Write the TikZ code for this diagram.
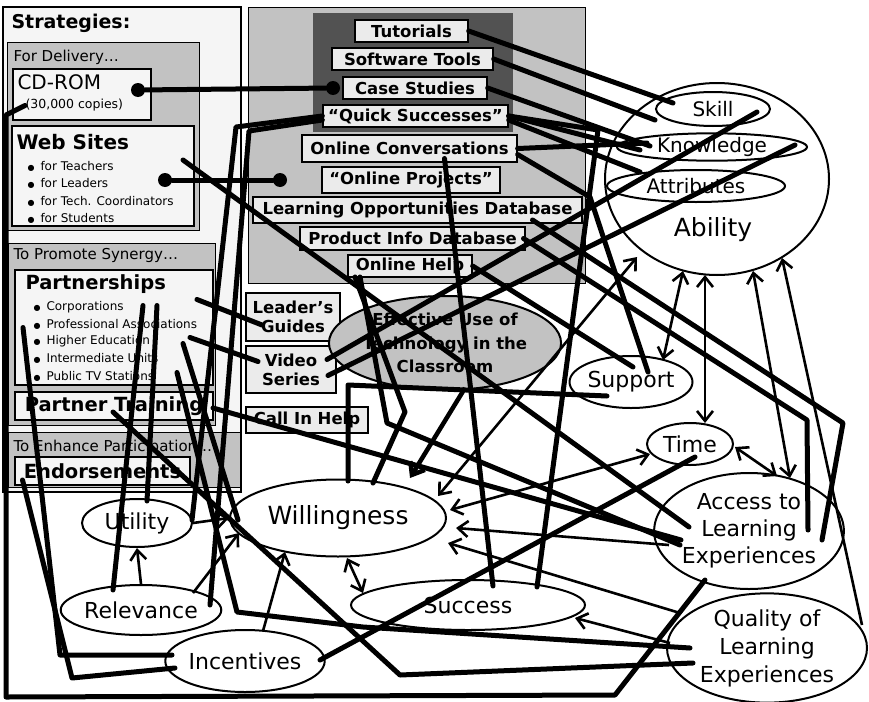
\documentclass[tikz,border=0pt]{standalone}
\usepackage{fontspec}
\setmainfont{DejaVu Sans}
\usetikzlibrary{shapes.geometric, arrows.meta, calc}

\tikzset{
  panel/.style={draw, line width=1pt, fill=black!24},
  sbox/.style={draw, line width=1.3pt, fill=black!4, inner sep=1pt},
  mbox/.style={draw, line width=1.3pt, fill=black!8, inner sep=1pt, font=\fontsize{16.5}{19}\bfseries, align=center},
  oval/.style={ellipse, draw, line width=2pt, fill=white, inner sep=0pt, font=\fontsize{22}{27}\selectfont, align=center},
  tie/.style={line width=5pt, line cap=round, line join=round},
  dot/.style={circle, fill, inner sep=0pt, minimum size=14pt},
  link/.style={line width=2.6pt, -{Straight Barb[length=10pt,width=16pt]}},
  both/.style={line width=2.6pt, {Straight Barb[length=10pt,width=16pt]}-{Straight Barb[length=10pt,width=16pt]}},
  boldlink/.style={line width=4.5pt, -{Straight Barb[length=11pt,width=17pt]}},
}

\begin{document}
\begin{tikzpicture}[x=1pt, y=-1pt]
  \useasboundingbox (0,0) rectangle (869,701);

  % --- Strategies panel ---
  \draw[line width=1.3pt, fill=black!4] (3,7) rectangle (241,492);
  \draw[panel] (7,43) rectangle (199,230);
  \draw[panel] (8,243) rectangle (215,425);
  \draw[panel] (8,432) rectangle (240,487);
  \node[anchor=west, font=\fontsize{19}{22}\bfseries] (strat) at (8,23) {Strategies:};
  \node[anchor=west, font=\fontsize{15}{17}\selectfont] (fordeliv) at (10,57) {For Delivery…};
  \node[anchor=west, font=\fontsize{15}{17}\selectfont] (forsyn) at (10,255) {To Promote Synergy…};
  \node[anchor=west, font=\fontsize{15}{17}\selectfont] (forpart) at (10,447) {To Enhance Participation…};

  \node[sbox, minimum width=138pt, minimum height=51pt] (cdrom) at (82,94.5) {};
  \node[anchor=west, font=\fontsize{20}{22}\selectfont] (cdromtxt) at (14,82) {CD-ROM};
  \node[anchor=west, font=\fontsize{12.5}{14}\selectfont] (copies) at (22,105) {(30,000 copies)};

  \node[sbox, minimum width=182pt, minimum height=100pt] (web) at (103,176) {};
  \node[anchor=west, font=\fontsize{20}{22}\bfseries] (webtxt) at (13,142) {Web Sites};
  \foreach \yy/\txt [count=\i] in {166/for Teachers, 183/for Leaders, 201/for Tech. Coordinators, 218/for Students}
    \node[anchor=west, font=\fontsize{12}{14}\selectfont] (webitem\i) at (24,\yy) {{\fontsize{8}{8}\selectfont ●}\hspace{6pt}\txt};

  \node[sbox, minimum width=198pt, minimum height=115pt] (partner) at (114,327.5) {};
  \node[anchor=west, font=\fontsize{19.5}{22}\bfseries] (partnertxt) at (22,284) {Partnerships};
  \foreach \yy/\txt [count=\i] in {307/Corporations, 324/Professional Associations, 341/Higher Education, 358/Intermediate Units, 376/Public TV Stations}
    \node[anchor=west, font=\fontsize{12}{14}\selectfont] (partitem\i) at (30,\yy) {{\fontsize{8}{8}\selectfont ●}\hspace{6pt}\txt};

  \node[sbox, minimum width=198pt, minimum height=28pt, font=\fontsize{19.5}{22}\bfseries] (ptrain) at (114,406) {Partner Training};
  \node[sbox, minimum width=175pt, minimum height=28pt, font=\fontsize{19.5}{22}\bfseries] (endorse) at (102.5,471) {Endorsements};

  % --- delivery tools ---
  \draw[panel] (248,8) rectangle (585,283);
  \fill[black!68] (313,13) rectangle (513,132);
  \node[mbox, minimum width=113pt, minimum height=22pt] (tut) at (411.5,31) {Tutorials};
  \node[mbox, minimum width=161pt, minimum height=22pt] (soft) at (412.5,59) {Software Tools};
  \node[mbox, minimum width=144pt, minimum height=22pt] (casest) at (415,88) {Case Studies};
  \node[mbox, minimum width=185pt, minimum height=22pt] (quick) at (415.5,116) {“Quick Successes”};
  \node[mbox, minimum width=215pt, minimum height=27pt] (onconv) at (409.5,148.5) {Online Conversations};
  \node[mbox, minimum width=178pt, minimum height=26pt] (onproj) at (411,180) {“Online Projects”};
  \node[mbox, minimum width=329pt, minimum height=26pt] (lod) at (417.5,210) {Learning Opportunities Database};
  \node[mbox, minimum width=225pt, minimum height=23pt] (prodinfo) at (412.5,238.5) {Product Info Database};
  \node[mbox, minimum width=124pt, minimum height=22pt] (onhelp) at (410,266) {Online Help};
  \node[mbox, minimum width=94pt, minimum height=48pt] (leaders) at (293,317) {Leader's\\Guides};
  \node[mbox, minimum width=90pt, minimum height=47pt] (video) at (291,369.5) {Video\\Series};
  \node[mbox, minimum width=122pt, minimum height=26pt] (callhelp) at (307,420) {Call In Help};

  % --- outcomes ---
  \node[oval, minimum width=224pt, minimum height=192pt] (ability) at (717,179) {};
  \node[font=\fontsize{25}{28}\selectfont] (abilitytxt) at (713,230) {Ability};
  \node[oval, minimum width=114pt, minimum height=34pt, font=\fontsize{20}{22}\selectfont] (skill) at (713,109) {Skill};
  \node[oval, minimum width=190pt, minimum height=26pt, font=\fontsize{20}{22}\selectfont] (knowledge) at (712,147) {Knowledge};
  \node[oval, minimum width=178pt, minimum height=32pt, font=\fontsize{20}{22}\selectfont] (attrib) at (696,186) {Attributes};
  \node[oval, fill=black!24, minimum width=200pt, minimum height=94pt, font=\fontsize{16.5}{23.5}\bfseries] (effuse) at (445,343) {Effective Use of\\Technology in the\\Classroom};
  \node[oval, minimum width=118pt, minimum height=52pt] (support) at (631,382) {Support};
  \node[oval, minimum width=86pt, minimum height=42pt] (time) at (690,444) {Time};
  \node[oval, minimum width=178pt, minimum height=116pt] (access) at (749,531) {Access to\\Learning\\Experiences};
  \node[oval, minimum width=200pt, minimum height=106pt, font=\fontsize{22}{28}\selectfont] (quality) at (767,648) {Quality of\\Learning\\Experiences};
  \node[oval, minimum width=216pt, minimum height=77pt, font=\fontsize{25}{28}\selectfont] (willing) at (338,518) {Willingness};
  \node[oval, minimum width=110pt, minimum height=48pt] (utility) at (137,523) {Utility};
  \node[oval, minimum width=144pt, minimum height=50pt] (relev) at (141,610) {Relevance};
  \node[oval, minimum width=150pt, minimum height=62pt] (incent) at (245,661) {Incentives};
  \node[oval, minimum width=234pt, minimum height=50pt] (success) at (468,605) {Success};

  % --- thick links ---
  \node[dot] (cddot) at (138,90) {};
  \node[dot] (csdot) at (333,88) {};
  \node[dot] (wsdot) at (165,180) {};
  \node[dot] (opdot) at (280,180) {};
  \draw[tie] (cddot) -- (csdot);
  \draw[tie] (wsdot) -- (opdot);

  \draw[tie] (tut.east) -- ($(skill)+(-40,-6)$);
  \draw[tie] (soft.east) -- ($(skill)+(-58,11)$);
  \draw[tie] (casest.east) -- ($(knowledge)+(-62,-1)$);
  \draw[tie] (quick.east) -- ($(knowledge)+(-72,3)$);
  \draw[tie] ($(quick.east)+(0,4)$) -- ($(attrib)+(-56,-14)$);
  \draw[tie] (onconv.east) -- ($(knowledge)+(-65,-4)$);
  \draw[tie] ($(skill)+(44,3)$) -- ($(video)+(36,-10)$);
  \draw[tie] ($(knowledge)+(83,-2)$) -- ($(video)+(37,6)$);
  \draw[tie] ($(onconv)+(35,10)$) -- ($(success)+(25,-19)$);
  \draw[tie] (quick.east) -- (598,130) -- ($(success)+(69,-18)$);
  \draw[tie] ($(lod)+(115,10)$) -- (843,423) -- ($(access)+(73,9)$);
  \draw[tie] ($(prodinfo)+(111,0)$) -- (807,420) -- ($(access)+(59,-1)$);
  \draw[tie] ($(onconv.east)+(0,6)$) -- (590,197) -- ($(support)+(17,-10)$);
  \draw[tie] (onhelp.east) -- ($(support)+(2,-15)$);
  \draw[tie] ($(web)+(80,-16)$) -- ($(access)+(-60,-4)$);
  \draw[tie] ($(ptrain)+(99,2)$) -- ($(access)+(-68,9)$);
  \draw[tie] ($(support)+(-24,14)$) -- (348,385) -- ($(willing)+(10,-37)$);
  \draw[tie] ($(onhelp)+(-55,11)$) -- (405,412) -- ($(willing)+(35,-35)$);
  \draw[tie] ($(onhelp)+(-50,11)$) -- (387,423) -- ($(access)+(-69,14)$);
  \draw[tie] ($(partner)+(83,-28)$) -- ($(leaders)+(-31,8)$);
  \draw[tie] ($(partner)+(76,10)$) -- ($(video)+(-33,-8)$);
  \draw[tie] ($(partner)+(-91,0)$) -- (60,655) -- ($(incent)+(-73,-6)$);
  \draw[tie] ($(endorse)+(-80,9)$) -- (72,678) -- ($(incent)+(-70,7)$);
  \draw[tie] ($(partner)+(29,-22)$) -- ($(relev)+(-28,-20)$);
  \draw[tie] ($(partner)+(43,-22)$) -- ($(utility)+(10,-22)$);
  \draw[tie] ($(partner)+(69,16)$) -- ($(willing)+(-100,2)$);
  \draw[tie] ($(partner)+(63,45)$) -- (237,612) -- (363,627) -- ($(quality)+(-77,0)$);
  \draw[tie] ($(ptrain)+(-1,6)$) -- (400,675) -- ($(quality)+(-74,15)$);
  \draw[tie] (quick.west) -- (236,127) -- ($(utility)+(55,-3)$);
  \draw[tie] ($(quick.west)+(0,4)$) -- (249,131) -- ($(relev)+(69,-5)$);
  \draw[tie] ($(cdrom)+(-57,11)$) -- (6,115) -- (6,697) -- (615,695) -- ($(access)+(-44,49)$);
  \draw[tie] ($(incent)+(75,-1)$) -- ($(time)+(5,13)$);
  \draw[boldlink] ($(effuse)+(20,45)$) -- ($(willing)+(72,-40)$);

  % --- arrows between outcomes ---
  \draw[both] ($(ability)+(-12,96)$) -- ($(time)+(15,-21)$);
  \draw[both] ($(time)+(45,3)$) -- ($(access)+(28,-55)$);
  \draw[both] ($(ability)+(36,92)$) -- ($(access)+(41,-53)$);
  \draw[link] ($(quality)+(95,-23)$) -- ($(ability)+(65,79)$);
  \draw[both] ($(ability)+(-34,92)$) -- ($(support)+(32,-22)$);
  \draw[both] ($(willing)+(9,40)$) -- ($(success)+(-105,-12)$);
  \draw[link] (relev.north) -- (utility.south);
  \draw[link] ($(relev)+(52,-17)$) -- ($(willing)+(-99,15)$);
  \draw[link] ($(incent)+(18,-30)$) -- ($(willing)+(-53,34)$);
  \draw[link] (utility.east) -- (willing.west);
  \draw[both] ($(willing)+(112,-8)$) -- ($(time)+(-40,10)$);
  \draw[both] ($(willing)+(100,-22)$) -- ($(ability)+(-80,78)$);
  \draw[link] ($(access)+(-80,14)$) -- ($(willing)+(118,10)$);
  \draw[link] ($(quality)+(-87,-35)$) -- ($(willing)+(110,25)$);
  \draw[link] ($(quality)+(-97,-5)$) -- ($(success)+(107,13)$);
\end{tikzpicture}
\end{document}
